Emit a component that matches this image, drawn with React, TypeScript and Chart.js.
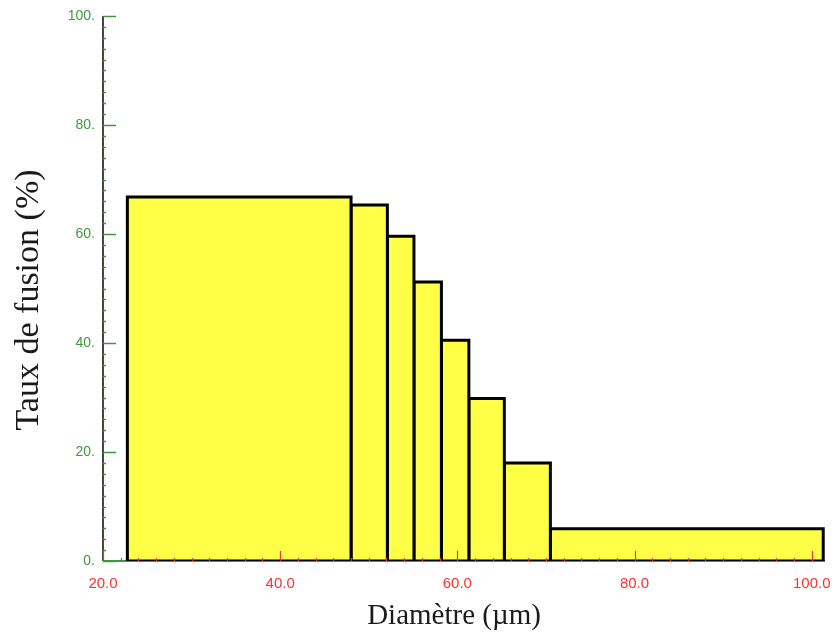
import React, { useEffect, useRef } from 'react';
import { Chart, registerables } from 'chart.js';

Chart.register(...registerables);

// Bin edges (diameter, µm) and melting rate (%) per bin
const BIN_EDGES = [22.75, 48, 52.1, 55.1, 58.2, 61.3, 65.3, 70.5, 101.3];
const RATES = [66.8, 65.3, 59.6, 51.2, 40.5, 29.8, 18.0, 5.9];

const X_TICKS = [20, 40, 60, 80, 100];
const Y_TICKS = [0, 20, 40, 60, 80, 100];
const X_MIN = 20;
const X_MAX = 101.5;
const Y_MIN = 0;
const Y_MAX = 100;
const MINOR_STEP = 2;

const X_TITLE = 'Diamètre (µm)';
const Y_TITLE = 'Taux de fusion (%)';

const GREEN = '#3c9a3c';
const RED = '#ff3030';
const YELLOW = '#ffff48';

const axesPlugin = {
  id: 'customAxes',
  beforeDatasetsDraw(chart: any) {
    const { ctx, chartArea } = chart;
    ctx.save();
    ctx.strokeStyle = GREEN;
    ctx.lineWidth = 2;
    ctx.beginPath();
    ctx.moveTo(chartArea.left, chartArea.bottom);
    ctx.lineTo(chartArea.right, chartArea.bottom);
    ctx.stroke();
    ctx.strokeStyle = '#444444';
    ctx.lineWidth = 2;
    ctx.beginPath();
    ctx.moveTo(chartArea.left, chartArea.top);
    ctx.lineTo(chartArea.left, chartArea.bottom);
    ctx.stroke();
    const ys = chart.scales.y;
    ctx.strokeStyle = GREEN;
    ctx.lineWidth = 1.5;
    for (let v = Y_MIN; v <= Y_MAX + 1e-9; v += MINOR_STEP) {
      const py = Math.round(ys.getPixelForValue(v)) + 0.5;
      const major = Y_TICKS.includes(v);
      ctx.beginPath();
      ctx.moveTo(chartArea.left, py);
      ctx.lineTo(chartArea.left + (major ? 13 : 3), py);
      ctx.stroke();
    }
    ctx.restore();
  },
  afterDatasetsDraw(chart: any) {
    const { ctx, chartArea } = chart;
    const xs = chart.scales.x;
    ctx.save();
    ctx.strokeStyle = RED;
    ctx.lineWidth = 1.2;
    for (let v = X_MIN; v <= X_MAX + 1e-9; v += MINOR_STEP) {
      const px = Math.round(xs.getPixelForValue(v)) + 0.5;
      const major = X_TICKS.includes(v);
      ctx.beginPath();
      ctx.moveTo(px, chartArea.bottom);
      ctx.lineTo(px, chartArea.bottom - (major ? 10 : 3));
      ctx.stroke();
    }
    // axis titles
    ctx.fillStyle = '#1a1a1a';
    ctx.textAlign = 'center';
    ctx.textBaseline = 'middle';
    ctx.font = '29px "Liberation Serif", "Times New Roman", serif';
    ctx.fillText(X_TITLE, 454, 616);
    ctx.translate(29, 300);
    ctx.rotate(-Math.PI / 2);
    ctx.font = '34px "Liberation Serif", "Times New Roman", serif';
    ctx.fillText(Y_TITLE, 0, 0);
    ctx.restore();
  },
};

export default function App() {
  const ref = useRef<HTMLCanvasElement | null>(null);

  useEffect(() => {
    document.body.style.margin = '0';
    const canvas = ref.current;
    if (!canvas) return;

    const datasets = RATES.map((h, i) => {
      const x0 = BIN_EDGES[i];
      const x1 = BIN_EDGES[i + 1];
      return {
        data: [
          { x: x0, y: 0 },
          { x: x0, y: h },
          { x: x1, y: h },
          { x: x1, y: 0 },
          { x: x0, y: 0 },
        ],
        fill: 'shape',
        backgroundColor: YELLOW,
        borderColor: '#000000',
        borderWidth: 3,
        borderJoinStyle: 'miter',
        pointRadius: 0,
        tension: 0,
      };
    });

    const chart = new Chart(canvas, {
      type: 'line',
      data: { datasets: datasets as any },
      plugins: [axesPlugin],
      options: {
        animation: false,
        responsive: false,
        events: [],
        layout: { padding: { top: 16, right: 8, left: 0, bottom: 0 } },
        plugins: {
          legend: { display: false },
          tooltip: { enabled: false },
        },
        scales: {
          x: {
            type: 'linear',
            min: X_MIN,
            max: X_MAX,
            afterBuildTicks: (s: any) => {
              s.ticks = X_TICKS.map((v) => ({ value: v }));
            },
            afterFit: (s: any) => {
              s.height = 76;
              s.paddingLeft = 0;
              s.paddingRight = 0;
            },
            grid: { display: false, drawTicks: false },
            border: { display: false },
            ticks: {
              color: RED,
              padding: 14,
              maxRotation: 0,
              autoSkip: false,
              font: { family: 'Liberation Sans', size: 15 },
              callback: (v: any) => Number(v).toFixed(1),
            },
            title: { display: false },
          },
          y: {
            type: 'linear',
            min: Y_MIN,
            max: Y_MAX,
            afterBuildTicks: (s: any) => {
              s.ticks = Y_TICKS.map((v) => ({ value: v }));
            },
            afterFit: (s: any) => {
              s.width = 103;
              s.paddingTop = 0;
              s.paddingBottom = 0;
            },
            grid: { display: false, drawTicks: false },
            border: { display: false },
            ticks: {
              color: GREEN,
              padding: 8,
              font: { family: 'Liberation Sans', size: 14 },
              callback: (v: any) => `${v}.`,
            },
            title: { display: false },
          },
        },
      } as any,
    });

    return () => chart.destroy();
  }, []);

  return (
    <div style={{ width: 833, height: 637, background: '#ffffff' }}>
      <canvas ref={ref} width={833} height={637} style={{ display: 'block' }} />
    </div>
  );
}
